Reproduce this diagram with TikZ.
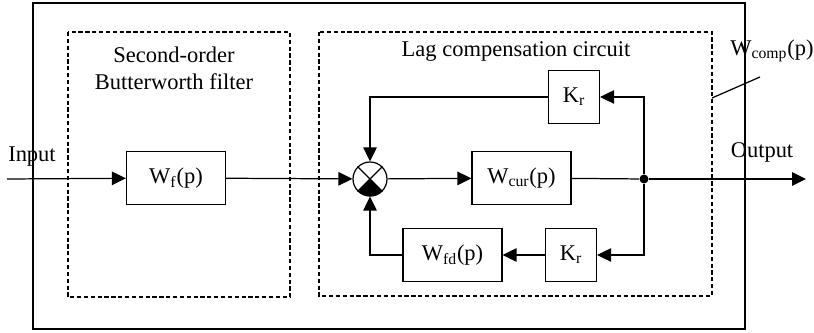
\documentclass[tikz,border=0pt]{standalone}
\usepackage{fontspec}
\setmainfont{Liberation Serif}
\usetikzlibrary{arrows.meta,positioning}

\begin{document}
\begin{tikzpicture}[
  x=0.02cm,y=-0.02cm,line width=0.7pt,
  font=\fontsize{12.8}{15.5}\selectfont,
  box/.style={draw,minimum width=1.98cm,minimum height=1.06cm,inner sep=0pt},
  gain/.style={box,minimum width=1.02cm},
  group/.style={draw,dash pattern=on 2.4pt off 1.5pt,line width=0.6pt},
  arrow/.style={-{Triangle[length=2.8mm,width=2.7mm]}}
]
\useasboundingbox (0,0) rectangle (814,333);
\draw[line width=0.9pt] (33,3) rectangle (745,329);
% the two parts of the compensator
\draw[group] (68,32) rectangle (290,297);
\draw[group] (319,32) rectangle (712,296);
\node[align=center] (filtertitle) at (174,68) {Second-order\\Butterworth filter};
\node (lagtitle) at (516,51) {Lag compensation circuit};
\node (wcomp) at (772,51) {W\textsubscript{comp}(p)};

\coordinate (in) at (7,179);
\coordinate (out) at (806,179);
\node (input) at (32,157) {Input};
\node (output) at (762,152) {Output};

\node[box] (wf) at (176,178) {W\textsubscript{f}(p)};
\node[circle,draw,minimum size=0.68cm,inner sep=0pt] (sum) at (370,179) {};
\draw (sum.45) -- (sum.-135) (sum.135) -- (sum.-45);
\fill (sum.center) -- (sum.-45) arc[start angle=-45,end angle=-135,radius=0.34cm] -- cycle;
\node[box] (wcur) at (521.5,178) {W\textsubscript{cur}(p)};
\node[gain] (krtop) at (574,97) {K\textsubscript{r}};
\node[gain] (krbot) at (571,255) {K\textsubscript{r}};
\node[box] (wfd) at (452.5,255) {W\textsubscript{fd}(p)};
\node[circle,fill,inner sep=0pt,minimum size=1.8mm] (dot) at (644,179) {};

\draw[arrow] (in) -- (wf);
\draw[arrow] (wf) -- (sum);
\draw[arrow] (sum) -- (wcur);
\draw (wcur) -- (dot);
\draw[arrow] (dot) -- (out);
\draw[arrow] (dot) |- (krtop);
\draw[arrow] (dot) |- (krbot);
\draw[arrow] (krtop) -| (sum);
\draw[arrow] (krbot) -- (wfd);
\draw[arrow] (wfd) -| (sum);

\coordinate (lagcorner) at (712,98);
\coordinate (tick) at (760,77);
\draw (lagcorner) -- (tick);
\end{tikzpicture}
\end{document}
